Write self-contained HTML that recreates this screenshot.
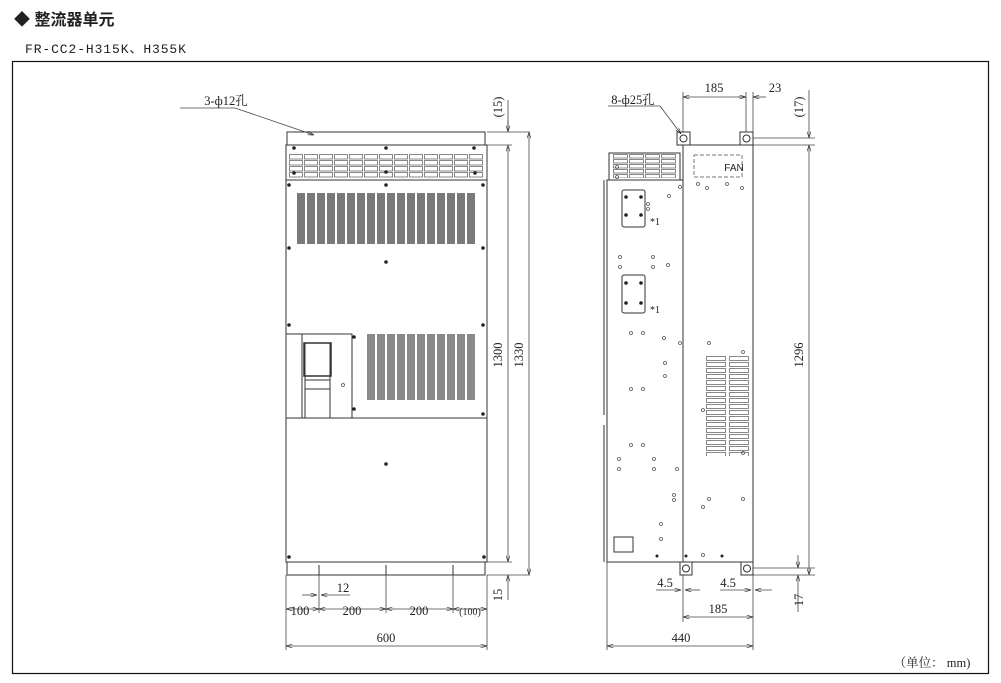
<!DOCTYPE html>
<html><head><meta charset="utf-8"><style>
html,body{margin:0;padding:0;background:#fff;}
svg{display:block;}
text{font-family:"Liberation Serif","Noto Serif CJK SC",serif;fill:#222;}
</style></head><body>
<svg width="1001" height="683" viewBox="0 0 1001 683" xmlns="http://www.w3.org/2000/svg">
<defs>
<pattern id="vl" x="297" y="0" width="10" height="10" patternUnits="userSpaceOnUse"><rect x="0" y="0" width="8" height="10" fill="#7a7a7a"/></pattern>
<pattern id="vl2" x="367" y="0" width="10" height="10" patternUnits="userSpaceOnUse"><rect x="0" y="0" width="8" height="10" fill="#8a8a8a"/></pattern>
<pattern id="gr" x="289" y="154" width="15" height="6" patternUnits="userSpaceOnUse"><rect x="0.5" y="0.5" width="13" height="4.5" fill="#fff" stroke="#555" stroke-width="0.7"/></pattern>
<pattern id="gr2" x="613" y="154" width="16" height="5" patternUnits="userSpaceOnUse"><rect x="0.5" y="0.5" width="14" height="3.5" fill="#fff" stroke="#555" stroke-width="0.7"/></pattern>
<pattern id="rl" x="706" y="356" width="23" height="6" patternUnits="userSpaceOnUse"><rect x="0.5" y="0.5" width="19" height="4" fill="#fff" stroke="#555" stroke-width="0.7"/></pattern>
<marker id="a" viewBox="0 0 10 6" refX="10" refY="3" markerWidth="8" markerHeight="5" orient="auto-start-reverse"><path d="M0,0 L10,3 L0,6" fill="none" stroke="#333" stroke-width="1"/></marker>
</defs>

<text x="14" y="25" style="font-family:'Liberation Sans','Noto Sans CJK SC',sans-serif;font-size:16px;font-weight:bold">◆ 整流器单元</text>
<text x="25" y="53" style="font-family:'Liberation Mono','Noto Sans CJK SC',monospace;font-size:13px;letter-spacing:0.9px">FR-CC2-H315K、H355K</text>
<rect x="12.5" y="61.5" width="976" height="612" fill="none" stroke="#111" stroke-width="1.2"/>

<g fill="none" stroke="#333" stroke-width="1">
<rect x="287" y="132" width="198" height="13"/>
<rect x="286" y="145" width="201" height="35"/>
<rect x="289" y="154" width="195" height="24" fill="url(#gr)" stroke="none"/>
<line x1="286" y1="180" x2="487" y2="180"/>
<rect x="286" y="180" width="201" height="382"/>
<rect x="297" y="193" width="180" height="51" fill="url(#vl)" stroke="none"/>
<rect x="286" y="334" width="66" height="84"/>
<line x1="302" y1="334" x2="302" y2="418"/>
<rect x="305" y="343" width="25" height="75"/>
<rect x="304" y="343" width="27" height="33" stroke-width="1.5"/>
<line x1="305" y1="380" x2="330" y2="380"/><line x1="305" y1="389" x2="330" y2="389"/>
<rect x="367" y="334" width="110" height="66" fill="url(#vl2)" stroke="none"/>
<line x1="286" y1="418" x2="487" y2="418"/>
<rect x="287" y="562" width="198" height="13"/>
<line x1="319" y1="565" x2="319" y2="575"/><line x1="386" y1="565" x2="386" y2="575"/><line x1="453" y1="565" x2="453" y2="575"/>

<rect x="607" y="180" width="76" height="382"/>
<rect x="609" y="153" width="71" height="27"/>
<rect x="613" y="154" width="64" height="24" fill="url(#gr2)" stroke="none"/>
<rect x="683" y="145" width="70" height="417"/>
<rect x="677" y="132" width="13" height="13"/><rect x="740" y="132" width="13" height="13"/>
<circle cx="683.5" cy="138.5" r="3.5"/><circle cx="746.5" cy="138.5" r="3.5"/>
<rect x="680" y="562" width="12" height="13"/><rect x="741" y="562" width="12" height="13"/>
<circle cx="686" cy="568.5" r="3.5"/><circle cx="747" cy="568.5" r="3.5"/>
<rect x="622" y="190" width="23" height="37" rx="2"/>
<rect x="622" y="275" width="23" height="38" rx="2"/>
<rect x="694" y="155" width="48" height="22" stroke-dasharray="4,2" stroke="#777"/>
<rect x="706" y="356" width="20" height="100" fill="url(#rl)" stroke="none"/>
<rect x="729" y="356" width="20" height="100" fill="url(#rl)" stroke="none"/>
<rect x="614" y="537" width="19" height="15"/>
<line x1="604" y1="180" x2="604" y2="415"/><line x1="604" y1="425" x2="604" y2="562"/>
</g>

<g fill="#222">
<circle cx="289" cy="185" r="1.8"/><circle cx="386" cy="185" r="1.8"/><circle cx="483" cy="185" r="1.8"/>
<circle cx="289" cy="248" r="1.8"/><circle cx="483" cy="248" r="1.8"/><circle cx="386" cy="262" r="1.8"/>
<circle cx="386" cy="148" r="1.8"/><circle cx="386" cy="172" r="1.8"/><circle cx="294" cy="148" r="1.8"/><circle cx="474" cy="148" r="1.8"/><circle cx="294" cy="173" r="1.8"/><circle cx="475" cy="173" r="1.8"/>
<circle cx="289" cy="325" r="1.8"/><circle cx="483" cy="325" r="1.8"/>
<circle cx="354" cy="337" r="1.8"/><circle cx="354" cy="409" r="1.8"/><circle cx="483" cy="414" r="1.8"/>
<circle cx="386" cy="464" r="1.8"/><circle cx="289" cy="557" r="1.8"/><circle cx="484" cy="557" r="1.8"/>
<circle cx="626" cy="197" r="1.8"/><circle cx="641" cy="197" r="1.8"/><circle cx="626" cy="215" r="1.8"/><circle cx="641" cy="215" r="1.8"/>
<circle cx="626" cy="283" r="1.8"/><circle cx="641" cy="283" r="1.8"/><circle cx="626" cy="303" r="1.8"/><circle cx="641" cy="303" r="1.8"/>
<circle cx="657" cy="556" r="1.5"/><circle cx="686" cy="556" r="1.5"/><circle cx="722" cy="556" r="1.5"/>
</g>
<g fill="none" stroke="#555" stroke-width="0.8">
<circle cx="617" cy="167" r="1.5"/><circle cx="617" cy="177" r="1.5"/><circle cx="698" cy="184" r="1.5"/><circle cx="727" cy="184" r="1.5"/>
<circle cx="707" cy="188" r="1.5"/><circle cx="742" cy="188" r="1.5"/><circle cx="680" cy="187" r="1.5"/><circle cx="669" cy="196" r="1.5"/>
<circle cx="648" cy="204" r="1.5"/><circle cx="648" cy="209" r="1.5"/>
<circle cx="620" cy="257" r="1.5"/><circle cx="653" cy="257" r="1.5"/><circle cx="620" cy="267" r="1.5"/><circle cx="653" cy="267" r="1.5"/><circle cx="668" cy="265" r="1.5"/>
<circle cx="631" cy="333" r="1.5"/><circle cx="643" cy="333" r="1.5"/><circle cx="664" cy="338" r="1.5"/><circle cx="680" cy="343" r="1.5"/><circle cx="709" cy="343" r="1.5"/>
<circle cx="743" cy="352" r="1.5"/><circle cx="665" cy="363" r="1.5"/><circle cx="665" cy="376" r="1.5"/><circle cx="631" cy="389" r="1.5"/><circle cx="643" cy="389" r="1.5"/>
<circle cx="703" cy="410" r="1.5"/><circle cx="631" cy="445" r="1.5"/><circle cx="643" cy="445" r="1.5"/><circle cx="619" cy="459" r="1.5"/><circle cx="654" cy="459" r="1.5"/>
<circle cx="619" cy="469" r="1.5"/><circle cx="654" cy="469" r="1.5"/><circle cx="677" cy="469" r="1.5"/><circle cx="743" cy="453" r="1.5"/>
<circle cx="674" cy="495" r="1.5"/><circle cx="674" cy="500" r="1.5"/><circle cx="709" cy="499" r="1.5"/><circle cx="743" cy="499" r="1.5"/><circle cx="703" cy="507" r="1.5"/>
<circle cx="661" cy="524" r="1.5"/><circle cx="661" cy="539" r="1.5"/><circle cx="703" cy="555" r="1.5"/>
<circle cx="343" cy="385" r="1.5"/>
</g>

<g fill="none" stroke="#444" stroke-width="0.8">
<line x1="487" y1="132" x2="530" y2="132"/><line x1="487" y1="145" x2="512" y2="145"/>
<line x1="487" y1="562" x2="512" y2="562"/><line x1="487" y1="575" x2="530" y2="575"/>
<line x1="508" y1="120" x2="508" y2="132" marker-end="url(#a)"/>
<line x1="508" y1="145" x2="508" y2="562" marker-start="url(#a)" marker-end="url(#a)"/>
<line x1="508" y1="575" x2="508" y2="600" marker-start="url(#a)"/>
<line x1="529" y1="132" x2="529" y2="575" marker-start="url(#a)" marker-end="url(#a)"/>
<line x1="508" y1="100" x2="508" y2="132"/>
<line x1="286" y1="575" x2="286" y2="650"/><line x1="487" y1="575" x2="487" y2="650"/>
<line x1="319" y1="575" x2="319" y2="613"/><line x1="386" y1="575" x2="386" y2="613"/><line x1="453" y1="575" x2="453" y2="613"/>
<line x1="286" y1="609" x2="319" y2="609" marker-start="url(#a)" marker-end="url(#a)"/>
<line x1="319" y1="609" x2="386" y2="609" marker-start="url(#a)" marker-end="url(#a)"/>
<line x1="386" y1="609" x2="453" y2="609" marker-start="url(#a)" marker-end="url(#a)"/>
<line x1="453" y1="609" x2="487" y2="609" marker-start="url(#a)" marker-end="url(#a)"/>
<line x1="302" y1="595" x2="317" y2="595" marker-end="url(#a)"/><line x1="350" y1="595" x2="321" y2="595" marker-end="url(#a)"/>
<line x1="286" y1="646" x2="487" y2="646" marker-start="url(#a)" marker-end="url(#a)"/>
<line x1="180" y1="108" x2="235" y2="108"/><line x1="235" y1="108" x2="314" y2="135" marker-end="url(#a)"/>
<line x1="683" y1="92" x2="683" y2="132"/><line x1="746" y1="92" x2="746" y2="132"/><line x1="753" y1="92" x2="753" y2="132"/>
<line x1="683" y1="97" x2="746" y2="97" marker-start="url(#a)" marker-end="url(#a)"/>
<line x1="766" y1="97" x2="753" y2="97" marker-end="url(#a)"/><line x1="746" y1="97" x2="738" y2="97"/>
<line x1="753" y1="138" x2="815" y2="138"/><line x1="753" y1="145" x2="815" y2="145"/>
<line x1="753" y1="568" x2="815" y2="568"/><line x1="753" y1="575" x2="815" y2="575"/>
<line x1="809" y1="90" x2="809" y2="138" marker-end="url(#a)"/>
<line x1="809" y1="145" x2="809" y2="575" marker-start="url(#a)" marker-end="url(#a)"/>
<line x1="798" y1="555" x2="798" y2="568" marker-end="url(#a)"/><line x1="798" y1="612" x2="798" y2="575" marker-end="url(#a)"/>
<line x1="683" y1="575" x2="683" y2="622"/><line x1="753" y1="575" x2="753" y2="650"/><line x1="607" y1="562" x2="607" y2="650"/>
<line x1="656" y1="590" x2="681" y2="590" marker-end="url(#a)"/><line x1="700" y1="590" x2="685" y2="590" marker-end="url(#a)"/>
<line x1="720" y1="590" x2="751" y2="590" marker-end="url(#a)"/><line x1="772" y1="590" x2="755" y2="590" marker-end="url(#a)"/>
<line x1="683" y1="617" x2="753" y2="617" marker-start="url(#a)" marker-end="url(#a)"/>
<line x1="607" y1="646" x2="753" y2="646" marker-start="url(#a)" marker-end="url(#a)"/>
<line x1="608" y1="106" x2="660" y2="106"/><line x1="660" y1="106" x2="681" y2="134" marker-end="url(#a)"/>
</g>

<g style="font-size:12.5px" text-anchor="middle">
<text x="226" y="105">3-ф12孔</text>
<text x="343" y="592">12</text>
<text x="300" y="615">100</text>
<text x="352" y="615">200</text>
<text x="419" y="615">200</text>
<text x="470" y="615" style="font-size:10px">(100)</text>
<text x="386" y="642">600</text>
<text x="633" y="104">8-ф25孔</text>
<text x="714" y="92">185</text>
<text x="775" y="92">23</text>
<text x="665" y="587">4.5</text>
<text x="728" y="587">4.5</text>
<text x="718" y="613">185</text>
<text x="681" y="642">440</text>
<text x="734" y="171" style="font-size:10px;font-family:'Liberation Sans',sans-serif">FAN</text>
<text x="655" y="225" style="font-size:10px">*1</text>
<text x="655" y="313" style="font-size:10px">*1</text>
<text x="932" y="667">（单位： mm)</text>
</g>
<g style="font-size:12.5px" text-anchor="middle">
<text transform="translate(502,107) rotate(-90)">(15)</text>
<text transform="translate(502,355) rotate(-90)">1300</text>
<text transform="translate(523,355) rotate(-90)">1330</text>
<text transform="translate(502,595) rotate(-90)">15</text>
<text transform="translate(803,107) rotate(-90)">(17)</text>
<text transform="translate(803,355) rotate(-90)">1296</text>
<text transform="translate(803,600) rotate(-90)">17</text>
</g>
</svg>
</body></html>
